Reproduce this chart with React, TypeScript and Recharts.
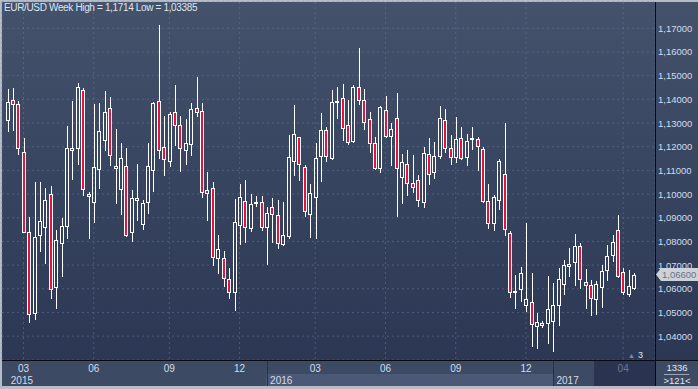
import React from 'react';
import { ComposedChart, Bar, XAxis, YAxis, CartesianGrid, ReferenceLine } from 'recharts';

// weekly EUR/USD candles (Jan 2015 .. Apr 2017)
const opens = [
  1.1311, 1.1396, 1.1379, 1.1176, 1.0838, 1.0496, 1.0825, 1.0862, 1.0999, 1.0608,
  1.0792, 1.0863, 1.1185, 1.1196, 1.1438, 1.0999, 1.0965, 1.1106, 1.1227, 1.1362,
  1.1112, 1.1020, 1.1117, 1.0838, 1.0975, 1.0872, 1.0965, 1.1100, 1.1392, 1.1197,
  1.1141, 1.1345, 1.1292, 1.1187, 1.1213, 1.1362, 1.1349, 1.1016, 1.1024, 1.0728,
  1.0732, 1.0640, 1.0587, 1.0870, 1.0969, 1.0858, 1.0962, 1.0965, 1.0862, 1.0944,
  1.0910, 1.0790, 1.0824, 1.1141, 1.1239, 1.1113, 1.0914, 1.0989, 1.1162, 1.1269,
  1.1152, 1.1390, 1.1404, 1.1290, 1.1224, 1.1451, 1.1396, 1.1315, 1.1214, 1.1108,
  1.1354, 1.1246, 1.1320, 1.1071, 1.1125, 1.1045, 1.1058, 1.0965, 1.1170, 1.1094,
  1.1161, 1.1314, 1.1196, 1.1156, 1.1238, 1.1156, 1.1232, 1.1234, 1.1192, 1.0970,
  1.0879, 1.0976, 1.1086, 1.0837, 1.0588, 1.0600, 1.0531, 1.0545, 1.0442, 1.0447,
  1.0456, 1.0462, 1.0531, 1.0621, 1.0706, 1.0714, 1.0782, 1.0628, 1.0616, 1.0558,
  1.0608, 1.0680, 1.0744, 1.0849, 1.0672, 1.0577, 1.0604,
];
const highs = [
  1.1444, 1.1448, 1.1393, 1.1235, 1.0903, 1.1052, 1.1052, 1.1025, 1.1034, 1.0849,
  1.0900, 1.1287, 1.1393, 1.1469, 1.1449, 1.1010, 1.1380, 1.1386, 1.1434, 1.1410,
  1.1275, 1.1216, 1.1194, 1.1017, 1.1127, 1.0975, 1.1216, 1.1387, 1.1714, 1.1330,
  1.1345, 1.1460, 1.1330, 1.1317, 1.1383, 1.1494, 1.1384, 1.1093, 1.1052, 1.0826,
  1.0759, 1.0689, 1.0979, 1.1042, 1.1059, 1.1000, 1.0992, 1.0992, 1.0945, 1.0983,
  1.0975, 1.0966, 1.1249, 1.1376, 1.1242, 1.1123, 1.1042, 1.1214, 1.1341, 1.1283,
  1.1440, 1.1452, 1.1465, 1.1397, 1.1461, 1.1617, 1.1444, 1.1346, 1.1241, 1.1373,
  1.1414, 1.1301, 1.1427, 1.1169, 1.1186, 1.1165, 1.1080, 1.1199, 1.1235, 1.1221,
  1.1370, 1.1358, 1.1251, 1.1327, 1.1285, 1.1255, 1.1282, 1.1241, 1.1200, 1.1041,
  1.0997, 1.1146, 1.1299, 1.0844, 1.0660, 1.0690, 1.0876, 1.0668, 1.0499, 1.0466,
  1.0656, 1.0623, 1.0686, 1.0721, 1.0773, 1.0830, 1.0792, 1.0682, 1.0637, 1.0631,
  1.0699, 1.0783, 1.0825, 1.0910, 1.0689, 1.0679, 1.0666,
];
const lows = [
  1.1268, 1.1270, 1.1170, 1.0838, 1.0458, 1.0473, 1.0761, 1.0710, 1.0562, 1.0517,
  1.0655, 1.0815, 1.1065, 1.1128, 1.0997, 1.0815, 1.0883, 1.1027, 1.1187, 1.1123,
  1.0963, 1.0914, 1.0824, 1.0803, 1.0890, 1.0851, 1.0921, 1.1014, 1.1154, 1.1082,
  1.1118, 1.1207, 1.1097, 1.1127, 1.1165, 1.1331, 1.0989, 1.0892, 1.0700, 1.0668,
  1.0613, 1.0562, 1.0510, 1.0790, 1.0799, 1.0845, 1.0951, 1.0848, 1.0706, 1.0796,
  1.0773, 1.0785, 1.0813, 1.1080, 1.1059, 1.0907, 1.0820, 1.0814, 1.1056, 1.1141,
  1.1148, 1.1323, 1.1228, 1.1213, 1.1218, 1.1380, 1.1275, 1.1179, 1.1106, 1.1093,
  1.1241, 1.1123, 1.0907, 1.0963, 1.0996, 1.1010, 1.0951, 1.0946, 1.1041, 1.1068,
  1.1151, 1.1177, 1.1125, 1.1135, 1.1146, 1.1123, 1.1192, 1.1101, 1.0968, 1.0855,
  1.0848, 1.0935, 1.0827, 1.0566, 1.0518, 1.0548, 1.0506, 1.0360, 1.0348, 1.0439,
  1.0369, 1.0338, 1.0449, 1.0576, 1.0654, 1.0618, 1.0603, 1.0518, 1.0489, 1.0493,
  1.0523, 1.0639, 1.0717, 1.0649, 1.0576, 1.0568, 1.0600,
];
const closes = [
  1.1390, 1.1379, 1.1193, 1.0841, 1.0492, 1.0817, 1.0885, 1.0973, 1.0601, 1.0804,
  1.0863, 1.1196, 1.1196, 1.1451, 1.1021, 1.0990, 1.1113, 1.1265, 1.1348, 1.1165,
  1.1118, 1.1151, 1.0825, 1.0983, 1.0983, 1.0961, 1.1117, 1.1383, 1.1185, 1.1149,
  1.1337, 1.1293, 1.1196, 1.1215, 1.1358, 1.1345, 1.1010, 1.1003, 1.0735, 1.0770,
  1.0644, 1.0587, 1.0880, 1.0986, 1.0862, 1.0956, 1.0965, 1.0859, 1.0918, 1.0914,
  1.0794, 1.0825, 1.1155, 1.1252, 1.1125, 1.0930, 1.1003, 1.1151, 1.1269, 1.1162,
  1.1387, 1.1395, 1.1280, 1.1221, 1.1451, 1.1399, 1.1306, 1.1217, 1.1110, 1.1366,
  1.1246, 1.1273, 1.1108, 1.1134, 1.1045, 1.1031, 1.0973, 1.1172, 1.1086, 1.1162,
  1.1323, 1.1196, 1.1156, 1.1234, 1.1152, 1.1225, 1.1235, 1.1204, 1.0972, 1.0879,
  1.0989, 1.1141, 1.0854, 1.0587, 1.0590, 1.0668, 1.0558, 1.0452, 1.0461, 1.0455,
  1.0515, 1.0532, 1.0642, 1.0701, 1.0696, 1.0782, 1.0642, 1.0616, 1.0562, 1.0621,
  1.0676, 1.0740, 1.0799, 1.0654, 1.0587, 1.0611, 1.0660,
];
const EMPTY_SLOTS = 3;

const priceTicks = [1.04, 1.05, 1.06, 1.07, 1.08, 1.09, 1.1, 1.11, 1.12, 1.13, 1.14, 1.15, 1.16, 1.17];
const monthTickIdx = [3, 16, 30, 43, 57, 70, 83, 96, 114];
const monthTickLabels = ['03', '06', '09', '12', '03', '06', '09', '12', '04'];
const yearTickIdx = [0, 48, 101];
const yearTickLabels = ['2015', '2016', '2017'];
const lastPrice = 1.066;

const RED = '#e3133d';
const TXT = '#d3dcea';
const FONT = '"Liberation Sans", Arial, sans-serif';

const data = Array.from({ length: opens.length + EMPTY_SLOTS }, (_, i) =>
  i < opens.length
    ? { i, o: opens[i], h: highs[i], l: lows[i], c: closes[i], range: [lows[i], highs[i]] }
    : { i, range: null }
);

const fmt = (v: number) => v.toFixed(5).replace('.', ',');

const Candle = (props: any) => {
  const { x, y, width, height, payload } = props;
  if (!payload || payload.o == null) return <g />;
  const top = Math.min(y, y + height);
  const bot = Math.max(y, y + height);
  const span = payload.h - payload.l || 1e-9;
  const py = (v: number) => top + ((payload.h - v) / span) * (bot - top);
  const cx = Math.round(x + width / 2);
  const up = payload.c >= payload.o;
  const bTop = Math.round(py(Math.max(payload.o, payload.c)));
  const bBot = Math.round(py(Math.min(payload.o, payload.c)));
  return (
    <g>
      <line x1={cx + 0.5} x2={cx + 0.5} y1={Math.round(top)} y2={bTop} stroke="#fff" />
      <line x1={cx + 0.5} x2={cx + 0.5} y1={bBot} y2={Math.round(bot) + 1} stroke="#fff" />
      {bBot - bTop < 1 ? (
        <line x1={cx - 2} x2={cx + 2} y1={bTop + 0.5} y2={bTop + 0.5} stroke="#fff" />
      ) : (
        <rect x={cx - 1.5} y={bTop + 0.5} width={3} height={bBot - bTop} fill={up ? 'none' : RED} stroke="#fff" />
      )}
    </g>
  );
};

const PriceTick = ({ x, y, payload }: any) => (
  <text x={x} y={y} dy={3.5} textAnchor="start" fill={TXT} fontSize={9.5} fontFamily={FONT}>
    {fmt(payload.value)}
  </text>
);

const MonthTick = ({ x, y, payload }: any) => {
  const k = monthTickIdx.indexOf(payload.value);
  if (k < 0) return <g />;
  const dim = k === monthTickIdx.length - 1;
  return (
    <text x={x} y={y} dy={11.5} textAnchor="middle" fill={dim ? '#6a7896' : TXT} fontSize={10} fontFamily={FONT}>
      {monthTickLabels[k]}
    </text>
  );
};

const YearTick = ({ x, y, payload }: any) => {
  const k = yearTickIdx.indexOf(payload.value);
  if (k < 0) return <g />;
  return (
    <g>
      {k > 0 && <line x1={Math.round(x) + 0.5} x2={Math.round(x) + 0.5} y1={y - 14} y2={y + 12} stroke="#26304a" />}
      <text x={x + 3.5} y={y} dy={9.5} textAnchor="start" fill={TXT} fontSize={10} fontFamily={FONT}>
        {yearTickLabels[k]}
      </text>
    </g>
  );
};

const LastPriceLabel = ({ viewBox }: any) => {
  const yy = viewBox.y;
  const x0 = viewBox.x + viewBox.width + 1;
  return (
    <g>
      <polygon
        points={`${x0},${yy} ${x0 + 5},${yy - 6.5} ${x0 + 42},${yy - 6.5} ${x0 + 42},${yy + 6.5} ${x0 + 5},${yy + 6.5}`}
        fill="#cdd2d9"
      />
      <text x={x0 + 6} y={yy} dy={3.5} fill="#6a7283" fontSize={9.5} fontFamily={FONT}>
        {fmt(lastPrice)}
      </text>
    </g>
  );
};

const App: React.FC = () => {
  return (
    <div style={{ position: 'absolute', left: 0, top: 0, width: 698, height: 389, background: '#b3bcc7', overflow: 'hidden', fontFamily: FONT }}>
      <div style={{ position: 'absolute', left: 2, top: 2, width: 696, height: 358, background: 'linear-gradient(#44526c, #2b3753)' }} />
      <div style={{ position: 'absolute', left: 2, top: 361, width: 696, height: 25, background: '#3d4a64' }} />
      <div style={{ position: 'absolute', left: 266, top: 374, width: 287, height: 12, background: '#4b5977' }} />
      <div style={{ position: 'absolute', left: 594, top: 361, width: 61, height: 25, background: '#2a3450' }} />

      <ComposedChart
        width={698}
        height={389}
        data={data}
        margin={{ top: 2, right: 0, bottom: 3, left: 2 }}
        style={{ position: 'absolute', left: 0, top: 0 }}
      >
        <CartesianGrid xAxisId="m" stroke="#66769a" strokeOpacity={0.55} strokeDasharray="2 3" />
        <XAxis
          xAxisId="m"
          dataKey="i"
          ticks={monthTickIdx}
          interval={0}
          height={14}
          tickSize={0}
          tickMargin={0}
          axisLine={false}
          tickLine={false}
          padding={{ left: 2.6, right: 2.1 }}
          tick={<MonthTick />}
        />
        <XAxis
          xAxisId="y"
          dataKey="i"
          ticks={yearTickIdx}
          interval={0}
          height={12}
          tickSize={0}
          tickMargin={0}
          axisLine={false}
          tickLine={false}
          padding={{ left: 2.6, right: 2.1 }}
          tick={<YearTick />}
        />
        <YAxis
          orientation="right"
          width={43}
          domain={[1.02992, 1.18111]}
          ticks={priceTicks}
          interval={0}
          allowDataOverflow
          tickSize={0}
          tickMargin={3}
          axisLine={false}
          tickLine={false}
          tick={<PriceTick />}
        />
        <Bar xAxisId="m" dataKey="range" barSize={4} shape={<Candle />} isAnimationActive={false} />
        <ReferenceLine xAxisId="m" y={lastPrice} stroke="none" ifOverflow="visible" label={<LastPriceLabel />} />
      </ComposedChart>

      <div style={{ position: 'absolute', left: 655, top: 2, width: 1, height: 384, background: '#070a12' }} />
      <div style={{ position: 'absolute', left: 2, top: 360, width: 696, height: 1, background: '#070a12' }} />

      <div style={{ position: 'absolute', left: 4, top: 2, fontSize: 10, lineHeight: '12px', letterSpacing: -0.35, color: '#dfe6f0', whiteSpace: 'nowrap' }}>
        EUR/USD Week High = 1,1714 Low = 1,03385
      </div>

      <div style={{ position: 'absolute', left: 628, top: 350, fontSize: 9, lineHeight: '10px', color: '#dfe6f0', whiteSpace: 'nowrap' }}>
        <span style={{ color: '#7f8da8', fontSize: 7, marginRight: 3 }}>▲</span>3
      </div>

      <div style={{ position: 'absolute', left: 656, top: 362, width: 42, textAlign: 'center', fontSize: 9.5, lineHeight: '11px', color: '#e2e8f0' }}>
        1336
      </div>
      <div style={{ position: 'absolute', left: 664, top: 374, width: 25, height: 1, background: '#9ba5b5' }} />
      <div style={{ position: 'absolute', left: 656, top: 375, width: 42, textAlign: 'center', fontSize: 9.5, lineHeight: '11px', color: '#e2e8f0' }}>
        &gt;121&lt;
      </div>
    </div>
  );
};

export default App;
